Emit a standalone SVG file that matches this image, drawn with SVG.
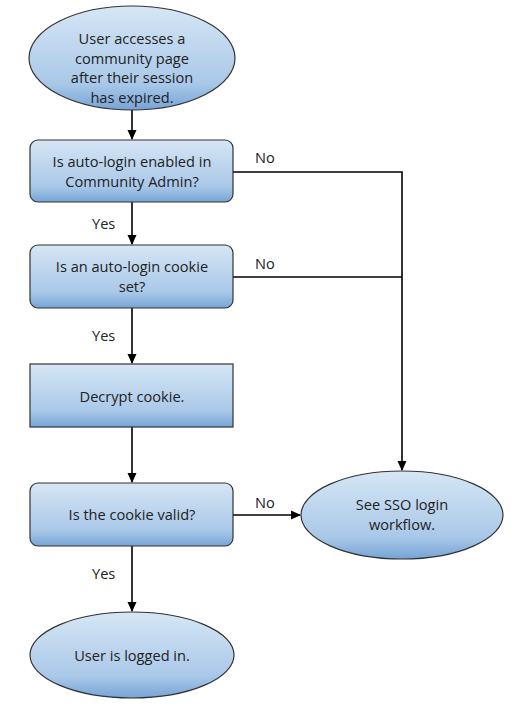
<svg xmlns="http://www.w3.org/2000/svg" width="525" height="710" viewBox="0 0 525 710">
<defs>
<linearGradient id="g" x1="0" y1="0" x2="0" y2="1">
<stop offset="0" stop-color="#d6e6f5"/>
<stop offset="0.75" stop-color="#a9c8e8"/>
<stop offset="1" stop-color="#76a4d6"/>
</linearGradient>
<marker id="arr" markerWidth="10" markerHeight="10" refX="9" refY="5" orient="auto" markerUnits="userSpaceOnUse">
<path d="M0,0.5 L10,5 L0,9.5 Z" fill="#000"/>
</marker>
<style>
.n{fill:url(#g);stroke:#333;stroke-width:1.2}
.t{font-family:"Open Sans","Liberation Sans",sans-serif;font-size:14.6px;fill:#222;text-anchor:middle}
.l{font-family:"Open Sans","Liberation Sans",sans-serif;font-size:14.6px;fill:#222}
.c{fill:none;stroke:#000;stroke-width:1.6}
</style>
</defs>
<g id="connectors">
<line class="c" x1="132" y1="110" x2="132" y2="139" marker-end="url(#arr)"/>
<line class="c" x1="132" y1="202" x2="132" y2="244" marker-end="url(#arr)"/>
<line class="c" x1="132" y1="308" x2="132" y2="363" marker-end="url(#arr)"/>
<line class="c" x1="132" y1="427" x2="132" y2="482" marker-end="url(#arr)"/>
<line class="c" x1="132" y1="546" x2="132" y2="611" marker-end="url(#arr)"/>
<polyline class="c" points="233,172 402,172 402,470" marker-end="url(#arr)"/>
<line class="c" x1="233" y1="277" x2="402" y2="277"/>
<line class="c" x1="233" y1="515" x2="300" y2="515" marker-end="url(#arr)"/>
<text class="l" x="255" y="163">No</text>
<text class="l" x="255" y="269">No</text>
<text class="l" x="255" y="508">No</text>
<text class="l" x="92" y="229">Yes</text>
<text class="l" x="92" y="341">Yes</text>
<text class="l" x="92" y="579">Yes</text>
</g>
<g id="start">
<ellipse class="n" cx="132" cy="58" rx="103" ry="52"/>
<text class="t" x="132" y="44">User accesses a</text>
<text class="t" x="132" y="63.5">community page</text>
<text class="t" x="132" y="83">after their session</text>
<text class="t" x="132" y="102.5">has expired.</text>
</g>
<g id="q1">
<rect class="n" x="30" y="140" width="203" height="62" rx="8"/>
<text class="t" x="132" y="167">Is auto-login enabled in</text>
<text class="t" x="132" y="187">Community Admin?</text>
</g>
<g id="q2">
<rect class="n" x="30" y="245" width="203" height="63" rx="8"/>
<text class="t" x="132" y="272">Is an auto-login cookie</text>
<text class="t" x="132" y="292">set?</text>
</g>
<g id="decrypt">
<rect class="n" x="30" y="364" width="203" height="63"/>
<text class="t" x="132" y="402">Decrypt cookie.</text>
</g>
<g id="q3">
<rect class="n" x="30" y="483" width="203" height="63" rx="8"/>
<text class="t" x="132" y="520">Is the cookie valid?</text>
</g>
<g id="sso">
<ellipse class="n" cx="402" cy="515" rx="101" ry="44"/>
<text class="t" x="402" y="510">See SSO login</text>
<text class="t" x="402" y="530">workflow.</text>
</g>
<g id="end">
<ellipse class="n" cx="132" cy="655" rx="102" ry="43"/>
<text class="t" x="132" y="661">User is logged in.</text>
</g>
</svg>
